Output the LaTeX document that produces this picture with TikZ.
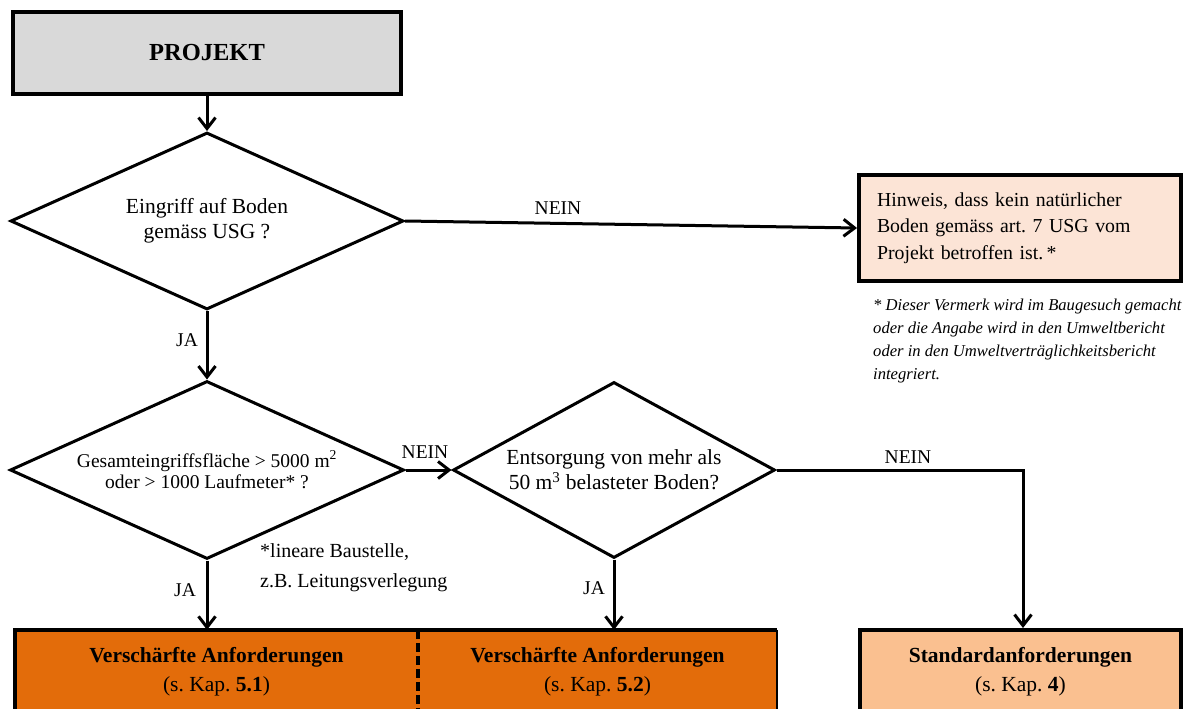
\documentclass[tikz,border=0pt]{standalone}
\usepackage{fontspec}
\setmainfont{Liberation Serif}
\usetikzlibrary{shapes.geometric,arrows.meta}
\definecolor{projgray}{HTML}{D9D9D9}
\definecolor{hintfill}{HTML}{FCE4D6}
\definecolor{orangefill}{HTML}{E36C0A}
\definecolor{stdfill}{HTML}{FAC090}
\frenchspacing
\begin{document}
\begin{tikzpicture}[x=1pt,y=-1pt,
  conn/.style={line width=3pt,-{Straight Barb[length=11pt,width=17pt]}},
  lbl/.style={inner sep=0pt,font=\fontsize{19.5}{22}\selectfont},
  decision/.style={diamond,draw,line width=3pt,inner sep=0pt,align=center},
  boxtext/.style={font=\fontsize{21.5}{29}\selectfont,align=center,inner sep=0pt}
]
\useasboundingbox (0,0) rectangle (1186,709);
\clip (0,0) rectangle (1186,709);

% start box
\node[draw,line width=4pt,fill=projgray,minimum width=388,minimum height=81,inner sep=0pt,
      font=\fontsize{24.5}{28}\selectfont\bfseries] (proj) at (207,53) {PROJEKT};

% decisions
\node[decision,minimum width=393,minimum height=177,aspect=2.22,
      font=\fontsize{21.5}{25}\selectfont] (d1) at (207,221)
      {Eingriff auf Boden\\gemäss USG ?};
\node[decision,minimum width=394,minimum height=178,aspect=2.21,
      font=\fontsize{19.5}{21.5}\selectfont] (d2) at (207,470)
      {Gesamteingriffsfläche > 5000 m\textsuperscript{2}\\oder > 1000 Laufmeter* ?};
\node[decision,minimum width=322,minimum height=176,aspect=1.83,
      font=\fontsize{21.5}{25}\selectfont] (d3) at (614,470)
      {Entsorgung von mehr als\\50 m\textsuperscript{3} belasteter Boden?};

% hint box
\node[draw,line width=4pt,fill=hintfill,minimum width=322,minimum height=106,
      text width=286,inner xsep=18pt,inner ysep=0pt,align=left,
      font=\fontsize{19.8}{26.5}\selectfont] (hint) at (1020,228)
      {Hinweis, dass kein natürlicher\\Boden gemäss art. 7 USG vom\\Projekt betroffen ist.\,*};
\node[anchor=north west,inner sep=0pt,align=left,
      font=\fontsize{16.6}{23}\selectfont\itshape] (fn) at (873,299)
      {* Dieser Vermerk wird im Baugesuch gemacht\\oder die Angabe wird in den Umweltbericht\\oder in den Umweltverträglichkeitsbericht\\integriert.};

% footnote linear
\node[anchor=north west,inner sep=0pt,align=left,
      font=\fontsize{20}{30}\selectfont] (lin) at (260,543)
      {*lineare Baustelle,\\z.B. Leitungsverlegung};

% result boxes
\node[fill=orangefill,minimum width=403,minimum height=83,inner sep=0pt,boxtext] (v1) at (216.5,671.5)
      {\textbf{Verschärfte Anforderungen}\\(s. Kap. \textbf{5.1})};
\node[fill=orangefill,minimum width=359,minimum height=83,inner sep=0pt,boxtext] (v2) at (597.5,671.5)
      {\textbf{Verschärfte Anforderungen}\\(s. Kap. \textbf{5.2})};
\draw[line width=4pt] (v1.south west) -- (v1.north west) -- (v2.north east);
\draw[line width=2pt] (v2.north east) -- (v2.south east);
\draw[line width=4.5pt,dash pattern=on 9pt off 4pt] (v1.north east) -- (v1.south east);

\node[draw,line width=4pt,fill=stdfill,minimum width=321,minimum height=83,boxtext] (std) at (1020.5,671.5)
      {\textbf{Standardanforderungen}\\(s. Kap. \textbf{4})};

% connectors
\draw[conn] (proj.south) -- (d1.north);
\draw[conn] (d1.east) -- (hint.west);
\draw[conn] (d1.south) -- (d2.north);
\draw[conn] (d2.east) -- (d3.west);
\draw[conn] (d2.south) -- (d2.south |- v1.north);
\draw[conn] (d3.south) -- (d3.south |- v2.north);
\coordinate (corner) at (1023,470);
\draw[conn] (d3.east) -- (corner) -- (corner |- std.north);

% labels
\node[lbl] (n1) at (558,208) {NEIN};
\node[lbl] (n2) at (425,452) {NEIN};
\node[lbl] (n3) at (908,457) {NEIN};
\node[lbl] (j1) at (187,340) {JA};
\node[lbl] (j2) at (185,590) {JA};
\node[lbl] (j3) at (594,588) {JA};
\end{tikzpicture}
\end{document}
